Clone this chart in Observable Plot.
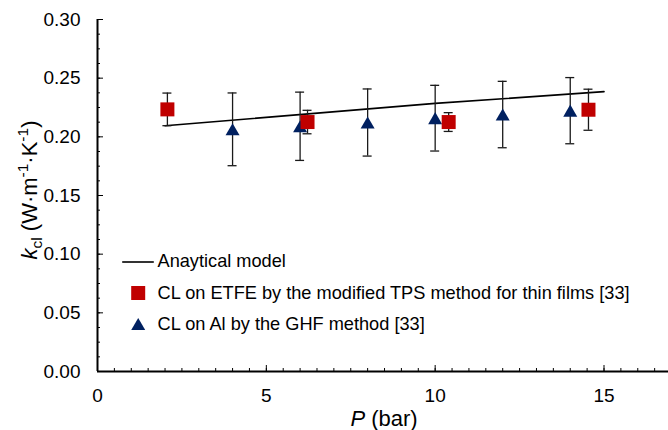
<!DOCTYPE html>
<html>
<head>
<meta charset="utf-8">
<script src="https://cdn.jsdelivr.net/npm/d3@7"></script>
<script src="https://cdn.jsdelivr.net/npm/@observablehq/plot@0.6"></script>
<style>
  html, body { margin: 0; padding: 0; background: #fff; }
  #wrap { position: relative; width: 668px; height: 430px; font-family: "Liberation Sans", Arial, sans-serif; }
  #legend { position: absolute; left: 121.5px; top: 246px; font-size: 18.2px; color: #000; }
  #legend .row { display: flex; align-items: center; height: 31.4px; white-space: nowrap; }
  #legend svg { width: 36px; height: 20px; flex: none; }
</style>
</head>
<body>
<div id="wrap"></div>
<script>
// ---- data ----
const modelP = [2, 10, 15];
const modelK = [0.2095, 0.2285, 0.2385];

const tpsP = [2.07, 6.22, 10.4, 14.54];
const tpsK = [0.2234, 0.2126, 0.2126, 0.2231];
const tpsErr = [0.0139, 0.0100, 0.0080, 0.0175];

const ghfP = [4, 6, 8, 10, 12, 14];
const ghfK = [0.2064, 0.2090, 0.2122, 0.2159, 0.2190, 0.2223];
const ghfErr = [0.0310, 0.0291, 0.0286, 0.0280, 0.0283, 0.0282];

const xMajor = [0, 5, 10, 15];
const yMajor = [0, 0.05, 0.10, 0.15, 0.20, 0.25, 0.30];

const legendLabels = [
  "Anaytical model",
  "CL on ETFE by the modified TPS method for thin films [33]",
  "CL on Al by the GHF method [33]"
];

const RED = "#c00000";
const NAVY = "#002060";

const model = modelP.map((p, i) => ({p, k: modelK[i]}));
const tps = tpsP.map((p, i) => ({p, k: tpsK[i], lo: tpsK[i] - tpsErr[i], hi: tpsK[i] + tpsErr[i]}));
const ghf = ghfP.map((p, i) => ({p, k: ghfK[i], lo: ghfK[i] - ghfErr[i], hi: ghfK[i] + ghfErr[i]}));

const xMinor = d3.range(0, 17, 0.5);
const yMinor = d3.range(0, 0.3001, 0.0125);

function errorBars(data) {
  return [
    Plot.ruleX(data, {x: "p", y1: "lo", y2: "hi", stroke: "#1a1a1a", strokeWidth: 1.3}),
    Plot.ruleY(data, {y: "lo", x1: "p", x2: "p", insetLeft: -4.5, insetRight: -4.5, stroke: "#1a1a1a", strokeWidth: 1.3}),
    Plot.ruleY(data, {y: "hi", x1: "p", x2: "p", insetLeft: -4.5, insetRight: -4.5, stroke: "#1a1a1a", strokeWidth: 1.3})
  ];
}

const chart = Plot.plot({
  width: 668,
  height: 430,
  marginLeft: 97,
  marginRight: 0,
  marginTop: 19,
  marginBottom: 59,
  style: {fontFamily: "'Liberation Sans', Arial, sans-serif", fontSize: "19px", color: "#000", background: "#fff"},
  x: {domain: [0, 16.91]},
  y: {domain: [0, 0.30]},
  marks: [
    // ticks (inward)
    Plot.axisX({ticks: xMinor, tickSize: -3, tickFormat: () => "", label: null, strokeWidth: 1}),
    Plot.axisX({ticks: xMajor, tickSize: -6, tickFormat: () => "", label: null, strokeWidth: 1}),
    Plot.axisX({ticks: xMajor, tickSize: 0, tickPadding: 17, tickFormat: d3.format("d"), label: null, fontSize: 19}),
    Plot.axisY({ticks: yMinor, tickSize: -3, tickFormat: () => "", label: null, strokeWidth: 1}),
    Plot.axisY({ticks: yMajor, tickSize: -6, tickFormat: () => "", label: null, strokeWidth: 1}),
    Plot.axisY({ticks: yMajor, tickSize: 0, tickPadding: 17, tickFormat: d3.format(".2f"), label: null, fontSize: 19}),
    // axis lines
    Plot.ruleX([0], {stroke: "#000", strokeWidth: 2}),
    Plot.ruleY([0], {stroke: "#000", strokeWidth: 2}),
    // model line
    Plot.line(model, {x: "p", y: "k", stroke: "#000", strokeWidth: 1.6}),
    // error bars
    ...errorBars(ghf),
    ...errorBars(tps),
    // markers
    Plot.dot(ghf, {x: "p", y: "k", symbol: "triangle", r: 5.2, dy: 2, fill: NAVY, stroke: "none"}),
    Plot.dot(tps, {x: "p", y: "k", symbol: "square", r: 7.9, fill: RED, stroke: "none"})
  ]
});

const wrap = document.getElementById("wrap");
wrap.appendChild(chart);

// axis titles with rich text
const svg = d3.select(chart);
const yl = svg.append("text")
  .attr("transform", "translate(36.5,190) rotate(-90)")
  .attr("text-anchor", "middle")
  .attr("font-size", 22)
  .attr("fill", "#000");
yl.append("tspan").attr("font-style", "italic").text("k");
yl.append("tspan").attr("font-size", 15.5).attr("dy", 5).text("cl");
yl.append("tspan").attr("dy", -5).text(" (W·m");
yl.append("tspan").attr("font-size", 15.5).attr("dy", -8.5).text("-1");
yl.append("tspan").attr("dy", 8.5).text("·K");
yl.append("tspan").attr("font-size", 15.5).attr("dy", -8.5).text("-1");
yl.append("tspan").attr("dy", 8.5).text(")");

const xl = svg.append("text")
  .attr("x", 384).attr("y", 426)
  .attr("text-anchor", "middle")
  .attr("font-size", 22)
  .attr("fill", "#000");
xl.append("tspan").attr("font-style", "italic").text("P");
xl.append("tspan").text(" (bar)");

// legend
const legend = document.createElement("div");
legend.id = "legend";
const swatches = [
  `<svg viewBox="0 0 36 20"><line x1="0.2" y1="10" x2="31.8" y2="10" stroke="#000" stroke-width="1.6"/></svg>`,
  `<svg viewBox="0 0 36 20"><rect x="9.2" y="3" width="14" height="14" fill="${RED}"/></svg>`,
  `<svg viewBox="0 0 36 20"><polygon points="16.2,4 23.2,16 9.2,16" fill="${NAVY}"/></svg>`
];
legendLabels.forEach((lab, i) => {
  const row = document.createElement("div");
  row.className = "row";
  row.innerHTML = swatches[i] + `<span>${lab}</span>`;
  legend.appendChild(row);
});
wrap.appendChild(legend);
</script>
</body>
</html>
